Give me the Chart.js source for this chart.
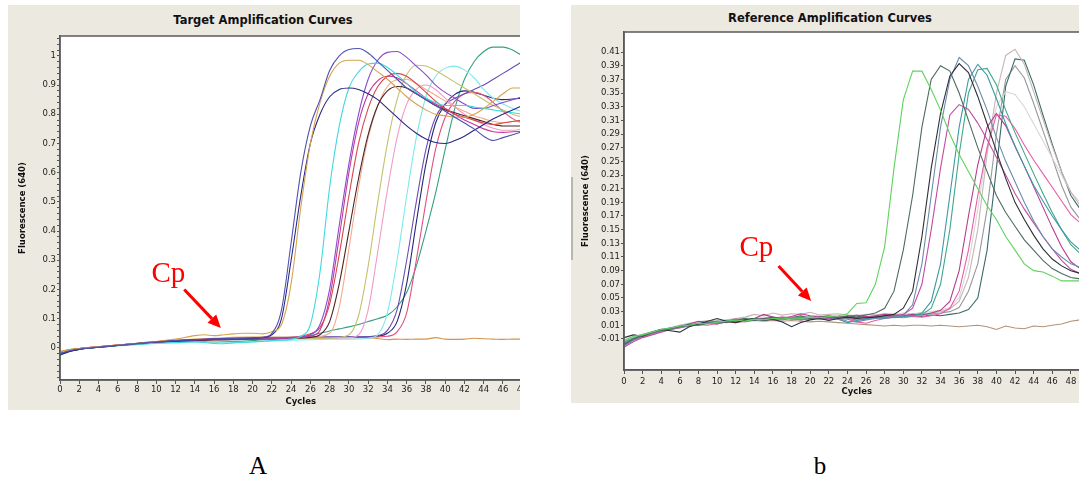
<!DOCTYPE html>
<html><head><meta charset="utf-8">
<script src="https://cdn.jsdelivr.net/npm/chart.js@4.4.1/dist/chart.umd.min.js"></script>
<style>
html,body{margin:0;padding:0;background:#fff;width:1079px;height:484px;overflow:hidden}
.panel{position:absolute;background:#ece9e1;overflow:hidden}
.ttl{position:absolute;font-family:'DejaVu Sans',sans-serif;font-weight:bold;font-size:11.5px;color:#111;white-space:nowrap;transform:translateX(-50%)}
.cv{position:absolute;left:0;top:0}
.lbl{position:absolute;font-family:'Liberation Serif','Times New Roman',serif;font-size:25px;line-height:25px;color:#000;transform:translateX(-50%)}
</style></head><body>
<div class="panel" style="left:8px;top:5px;width:512px;height:405px">
  <div class="ttl" style="left:255px;top:8px">Target Amplification Curves</div>
  <div class="cv" style="width:560px;height:405px"><canvas id="chartA"></canvas></div>
</div>
<div class="panel" style="left:571px;top:5px;width:508px;height:398px">
  <div class="ttl" style="left:259px;top:6px">Reference Amplification Curves</div>
  <div class="cv" style="width:540px;height:398px"><canvas id="chartB"></canvas></div>
</div>
<div style="position:absolute;left:571px;top:177px;width:2px;height:83px;background:#b8b6b0"></div>
<div class="lbl" style="left:258px;top:453px">A</div>
<div class="lbl" style="left:820px;top:453px">b</div>
<script>
// ---------- axis ticks ----------
const cycleTicks = [0,2,4,6,8,10,12,14,16,18,20,22,24,26,28,30,32,34,36,38,40,42,44,46,48,50];
const yTickValsA = [0,0.1,0.2,0.3,0.4,0.5,0.6,0.7,0.8,0.9,1];
const yTickLabelsA = ['0','0.1','0.2','0.3','0.4','0.5','0.6','0.7','0.8','0.9','1'];
const yTickValsB = [-0.01,0.01,0.03,0.05,0.07,0.09,0.11,0.13,0.15,0.17,0.19,0.21,0.23,0.25,0.27,0.29,0.31,0.33,0.35,0.37,0.39,0.41];
const yTickLabelsB = ['-0.01','0.01','0.03','0.05','0.07','0.09','0.11','0.13','0.15','0.17','0.19','0.21','0.23','0.25','0.27','0.29','0.31','0.33','0.35','0.37','0.39','0.41'];

// ---------- panel A series: [cycle, fluorescence] ----------
const targetNavyPurple = [[0,-0.02],[1,-0.01],[2,-0.004],[4,0.003],[6,0.009],[8,0.015],[10,0.021],[12,0.025],[14,0.028],[16,0.03],[18,0.032],[20,0.034],[21,0.036],[22,0.05],[23,0.13],[24,0.36],[25,0.6],[26,0.76],[27,0.85],[28,0.95],[29,1.0],[30,1.022],[31,1.025],[32,1.01],[33,0.98],[34,0.95],[35,0.92],[36,0.89],[37,0.87],[38,0.85],[39,0.83],[40,0.81],[41,0.79],[42,0.77],[43,0.75],[44,0.725],[45,0.71],[46,0.72],[47,0.73],[48,0.74]];
const targetOrangeTan = [[0,-0.012],[1,-0.006],[2,-0.002],[4,0.004],[6,0.01],[8,0.016],[10,0.022],[12,0.03],[14,0.042],[15,0.045],[16,0.042],[17,0.045],[18,0.048],[19,0.05],[20,0.05],[21,0.048],[22,0.055],[23,0.08],[24,0.22],[25,0.48],[26,0.7],[27,0.84],[28,0.93],[29,0.975],[30,0.985],[31,0.985],[32,0.97],[33,0.945],[34,0.92],[35,0.89],[36,0.86],[37,0.835],[38,0.815],[39,0.8],[40,0.795],[41,0.79],[42,0.79],[43,0.8],[44,0.82],[45,0.845],[46,0.87],[47,0.89],[48,0.89]];
const targetDarkBlue = [[0,-0.025],[1,-0.012],[2,-0.005],[4,0.002],[6,0.008],[8,0.014],[10,0.02],[12,0.024],[14,0.027],[16,0.03],[18,0.031],[20,0.033],[21,0.035],[22,0.045],[23,0.1],[24,0.3],[25,0.52],[26,0.7],[27,0.8],[28,0.86],[29,0.885],[30,0.89],[31,0.885],[32,0.87],[33,0.85],[34,0.82],[35,0.79],[36,0.76],[37,0.735],[38,0.715],[39,0.703],[40,0.7],[41,0.71],[42,0.725],[43,0.745],[44,0.765],[45,0.785],[46,0.8],[47,0.815],[48,0.83]];
const targetCyan = [[0,-0.015],[1,-0.008],[2,-0.003],[4,0.003],[6,0.008],[8,0.012],[10,0.016],[12,0.018],[14,0.02],[16,0.015],[17,0.014],[18,0.017],[20,0.02],[22,0.025],[24,0.03],[25,0.04],[26,0.08],[27,0.26],[28,0.55],[29,0.76],[30,0.89],[31,0.945],[32,0.972],[33,0.975],[34,0.96],[35,0.935],[36,0.905],[37,0.875],[38,0.855],[39,0.84],[40,0.83],[41,0.83],[42,0.83],[43,0.825],[44,0.82],[45,0.815],[46,0.81],[47,0.805],[48,0.8]];
const targetPurple = [[0,-0.018],[1,-0.01],[2,-0.004],[4,0.002],[6,0.009],[8,0.014],[10,0.02],[12,0.025],[14,0.028],[16,0.031],[18,0.033],[20,0.034],[22,0.034],[24,0.035],[26,0.045],[27,0.08],[28,0.2],[29,0.42],[30,0.63],[31,0.8],[32,0.92],[33,0.985],[34,1.012],[35,1.015],[36,0.995],[37,0.965],[38,0.935],[39,0.9],[40,0.875],[41,0.855],[42,0.835],[43,0.82],[44,0.82],[45,0.83],[46,0.84],[47,0.85],[48,0.86]];
const targetRed = [[0,-0.015],[1,-0.007],[2,-0.002],[4,0.004],[6,0.01],[8,0.016],[10,0.022],[12,0.026],[14,0.028],[16,0.03],[18,0.032],[20,0.033],[22,0.034],[24,0.036],[26,0.048],[27,0.07],[28,0.15],[29,0.32],[30,0.52],[31,0.7],[32,0.82],[33,0.895],[34,0.93],[35,0.94],[36,0.93],[37,0.905],[38,0.875],[39,0.845],[40,0.82],[41,0.8],[42,0.79],[43,0.78],[44,0.77],[45,0.765],[46,0.77],[47,0.775],[48,0.78]];
const targetMagenta = [[0,-0.02],[1,-0.01],[2,-0.004],[4,0.003],[6,0.009],[8,0.015],[10,0.02],[12,0.024],[14,0.027],[16,0.029],[18,0.03],[20,0.031],[22,0.032],[24,0.034],[26,0.04],[27,0.06],[28,0.17],[29,0.38],[30,0.6],[31,0.77],[32,0.87],[33,0.915],[34,0.93],[35,0.925],[36,0.905],[37,0.88],[38,0.855],[39,0.835],[40,0.82],[41,0.8],[42,0.78],[43,0.765],[44,0.75],[45,0.74],[46,0.738],[47,0.74],[48,0.742]];
const targetDarkBrown = [[0,-0.016],[1,-0.008],[2,-0.003],[4,0.003],[6,0.008],[8,0.013],[10,0.019],[12,0.022],[14,0.025],[16,0.027],[18,0.028],[20,0.03],[22,0.031],[24,0.033],[26,0.036],[27,0.045],[28,0.09],[29,0.22],[30,0.4],[31,0.58],[32,0.73],[33,0.83],[34,0.88],[35,0.895],[36,0.89],[37,0.87],[38,0.85],[39,0.83],[40,0.815],[41,0.805],[42,0.795],[43,0.785],[44,0.775],[45,0.765],[46,0.76],[47,0.76],[48,0.76]];
const targetPeach = [[0,-0.014],[1,-0.007],[2,-0.002],[4,0.004],[6,0.01],[8,0.015],[10,0.02],[12,0.025],[14,0.028],[16,0.03],[18,0.031],[20,0.032],[22,0.033],[24,0.034],[26,0.036],[28,0.05],[29,0.14],[30,0.34],[31,0.55],[32,0.72],[33,0.83],[34,0.895],[35,0.918],[36,0.92],[37,0.905],[38,0.885],[39,0.865],[40,0.845],[41,0.825],[42,0.81],[43,0.795],[44,0.785],[45,0.775],[46,0.772],[47,0.775],[48,0.78]];
const targetOlive = [[0,-0.013],[1,-0.006],[2,-0.002],[4,0.004],[6,0.009],[8,0.014],[10,0.019],[12,0.023],[14,0.026],[16,0.028],[18,0.029],[20,0.03],[22,0.03],[24,0.031],[26,0.032],[28,0.033],[30,0.045],[31,0.11],[32,0.28],[33,0.5],[34,0.7],[35,0.85],[36,0.935],[37,0.968],[38,0.965],[39,0.95],[40,0.93],[41,0.91],[42,0.89],[43,0.87],[44,0.85],[45,0.83],[46,0.815],[47,0.8],[48,0.79]];
const targetPink = [[0,-0.016],[1,-0.008],[2,-0.003],[4,0.003],[6,0.009],[8,0.014],[10,0.019],[12,0.023],[14,0.026],[16,0.028],[18,0.029],[20,0.03],[22,0.031],[24,0.032],[26,0.033],[28,0.034],[30,0.035],[31,0.045],[32,0.13],[33,0.33],[34,0.54],[35,0.72],[36,0.835],[37,0.885],[38,0.9],[39,0.885],[40,0.855],[41,0.825],[42,0.8],[43,0.78],[44,0.765],[45,0.752],[46,0.745],[47,0.745],[48,0.75]];
const targetLightCyan = [[0,-0.017],[1,-0.009],[2,-0.004],[4,0.002],[6,0.007],[8,0.011],[10,0.015],[12,0.018],[14,0.02],[16,0.02],[18,0.019],[20,0.021],[22,0.024],[24,0.026],[26,0.028],[28,0.03],[30,0.03],[32,0.033],[33,0.045],[34,0.12],[35,0.3],[36,0.52],[37,0.72],[38,0.86],[39,0.93],[40,0.958],[41,0.965],[42,0.952],[43,0.925],[44,0.885],[45,0.855],[46,0.835],[47,0.82],[48,0.81]];
const targetLateViolet = [[0,-0.02],[1,-0.01],[2,-0.004],[4,0.003],[6,0.009],[8,0.015],[10,0.02],[12,0.025],[14,0.028],[16,0.03],[18,0.032],[20,0.034],[22,0.035],[24,0.036],[26,0.037],[28,0.038],[30,0.038],[32,0.039],[33,0.042],[34,0.06],[35,0.13],[36,0.3],[37,0.5],[38,0.68],[39,0.79],[40,0.835],[41,0.855],[42,0.87],[43,0.885],[44,0.9],[45,0.92],[46,0.94],[47,0.96],[48,0.98]];
const targetLateRose = [[0,-0.014],[1,-0.007],[2,-0.002],[4,0.004],[6,0.01],[8,0.015],[10,0.02],[12,0.024],[14,0.027],[16,0.029],[18,0.03],[20,0.031],[22,0.032],[24,0.033],[26,0.034],[28,0.035],[30,0.036],[32,0.037],[34,0.04],[35,0.055],[36,0.12],[37,0.3],[38,0.5],[39,0.68],[40,0.79],[41,0.845],[42,0.87],[43,0.875],[44,0.865],[45,0.84],[46,0.81],[47,0.785],[48,0.77]];
const targetLateNavy = [[0,-0.022],[1,-0.011],[2,-0.005],[4,0.002],[6,0.008],[8,0.014],[10,0.019],[12,0.024],[14,0.027],[16,0.029],[18,0.031],[20,0.033],[22,0.034],[24,0.035],[26,0.036],[28,0.036],[30,0.037],[32,0.038],[33,0.04],[34,0.05],[35,0.09],[36,0.22],[37,0.43],[38,0.63],[39,0.77],[40,0.835],[41,0.868],[42,0.88],[43,0.875],[44,0.865],[45,0.855],[46,0.85],[47,0.852],[48,0.855]];
const targetTealGreen = [[0,-0.025],[1,-0.012],[2,-0.005],[4,0.002],[6,0.008],[8,0.014],[10,0.019],[12,0.022],[14,0.024],[16,0.02],[18,0.022],[20,0.025],[22,0.03],[24,0.034],[25,0.036],[26,0.042],[27,0.05],[28,0.058],[29,0.065],[30,0.072],[31,0.08],[32,0.09],[33,0.1],[34,0.112],[35,0.14],[36,0.19],[37,0.28],[38,0.4],[39,0.53],[40,0.68],[41,0.82],[42,0.92],[43,0.98],[44,1.015],[45,1.03],[46,1.03],[47,1.02],[48,1.0]];
const targetFlatOrange = [[0,-0.013],[1,-0.006],[2,-0.002],[4,0.004],[6,0.01],[8,0.015],[10,0.021],[12,0.026],[14,0.03],[16,0.033],[18,0.036],[20,0.037],[22,0.037],[24,0.036],[26,0.035],[28,0.034],[30,0.035],[32,0.035],[33,0.032],[34,0.028],[35,0.03],[36,0.029],[37,0.03],[38,0.03],[39,0.035],[40,0.03],[41,0.029],[42,0.03],[43,0.033],[44,0.031],[45,0.03],[46,0.029],[47,0.03],[48,0.03]];

// ---------- panel b series: [cycle, fluorescence] ----------
const refGreen = [[0,-0.012],[1,-0.006],[2,-0.004],[3,0.0],[4,0.004],[5,0.006],[6,0.009],[7,0.01],[8,0.013],[9,0.012],[10,0.015],[11,0.016],[12,0.018],[13,0.016],[14,0.019],[15,0.018],[16,0.02],[17,0.019],[18,0.021],[19,0.02],[20,0.022],[21,0.021],[22,0.023],[23,0.024],[24,0.027],[25,0.042],[26,0.043],[27,0.07],[28,0.125],[29,0.24],[30,0.34],[31,0.382],[32,0.382],[33,0.355],[34,0.325],[35,0.29],[36,0.26],[37,0.235],[38,0.21],[39,0.185],[40,0.165],[41,0.14],[42,0.12],[43,0.1],[44,0.09],[45,0.088],[46,0.082],[47,0.075],[48,0.075],[49,0.075]];
const refSlateGreen = [[0,-0.018],[1,-0.01],[2,-0.005],[3,-0.001],[4,0.003],[5,0.005],[6,0.008],[7,0.011],[8,0.01],[9,0.013],[10,0.016],[11,0.014],[12,0.018],[13,0.02],[14,0.017],[15,0.02],[16,0.022],[17,0.019],[18,0.021],[19,0.024],[20,0.02],[21,0.022],[22,0.023],[23,0.021],[24,0.024],[25,0.022],[26,0.025],[27,0.028],[28,0.035],[29,0.06],[30,0.12],[31,0.2],[32,0.3],[33,0.37],[34,0.39],[35,0.382],[36,0.35],[37,0.31],[38,0.27],[39,0.235],[40,0.2],[41,0.175],[42,0.155],[43,0.135],[44,0.12],[45,0.105],[46,0.093],[47,0.086],[48,0.08],[49,0.078]];
const refBlack = [[0,-0.008],[1,-0.004],[2,-0.006],[3,0.0],[4,0.004],[5,0.002],[6,0.0],[7,0.008],[8,0.012],[9,0.016],[10,0.02],[11,0.016],[12,0.014],[13,0.018],[14,0.02],[15,0.017],[16,0.019],[17,0.015],[18,0.008],[19,0.014],[20,0.018],[21,0.02],[22,0.017],[23,0.02],[24,0.022],[25,0.02],[26,0.021],[27,0.022],[28,0.024],[29,0.026],[30,0.035],[31,0.06],[32,0.14],[33,0.24],[34,0.32],[35,0.375],[36,0.393],[37,0.38],[38,0.345],[39,0.305],[40,0.265],[41,0.225],[42,0.19],[43,0.165],[44,0.142],[45,0.122],[46,0.107],[47,0.097],[48,0.09],[49,0.086]];
const refBlueGray = [[0,-0.02],[1,-0.012],[2,-0.006],[3,-0.002],[4,0.002],[5,0.005],[6,0.007],[7,0.009],[8,0.011],[9,0.013],[10,0.014],[11,0.016],[12,0.015],[13,0.017],[14,0.018],[15,0.017],[16,0.019],[17,0.018],[18,0.02],[19,0.019],[20,0.021],[21,0.02],[22,0.018],[23,0.02],[24,0.016],[25,0.015],[26,0.018],[27,0.02],[28,0.021],[29,0.022],[30,0.025],[31,0.04],[32,0.1],[33,0.2],[34,0.3],[35,0.37],[36,0.402],[37,0.39],[38,0.36],[39,0.325],[40,0.285],[41,0.25],[42,0.22],[43,0.19],[44,0.163],[45,0.14],[46,0.122],[47,0.11],[48,0.1],[49,0.095]];
const refMagenta = [[0,-0.022],[1,-0.014],[2,-0.008],[3,-0.004],[4,0.0],[5,0.004],[6,0.007],[7,0.01],[8,0.012],[9,0.013],[10,0.012],[11,0.015],[12,0.017],[13,0.016],[14,0.018],[15,0.02],[16,0.018],[17,0.019],[18,0.021],[19,0.02],[20,0.019],[21,0.021],[22,0.02],[23,0.022],[24,0.021],[25,0.02],[26,0.022],[27,0.023],[28,0.021],[29,0.024],[30,0.026],[31,0.035],[32,0.07],[33,0.15],[34,0.24],[35,0.318],[36,0.333],[37,0.326],[38,0.306],[39,0.282],[40,0.256],[41,0.23],[42,0.203],[43,0.18],[44,0.16],[45,0.14],[46,0.122],[47,0.105],[48,0.092],[49,0.086]];
const refTealBlue = [[0,-0.016],[1,-0.01],[2,-0.005],[3,-0.001],[4,0.003],[5,0.006],[6,0.008],[7,0.01],[8,0.013],[9,0.014],[10,0.015],[11,0.017],[12,0.016],[13,0.018],[14,0.02],[15,0.019],[16,0.02],[17,0.021],[18,0.019],[19,0.021],[20,0.022],[21,0.02],[22,0.021],[23,0.019],[24,0.014],[25,0.017],[26,0.02],[27,0.021],[28,0.02],[29,0.022],[30,0.023],[31,0.024],[32,0.028],[33,0.045],[34,0.1],[35,0.2],[36,0.3],[37,0.37],[38,0.392],[39,0.376],[40,0.342],[41,0.305],[42,0.272],[43,0.243],[44,0.215],[45,0.192],[46,0.17],[47,0.15],[48,0.132],[49,0.12]];
const refTealGreen = [[0,-0.014],[1,-0.009],[2,-0.004],[3,0.0],[4,0.004],[5,0.006],[6,0.009],[7,0.011],[8,0.012],[9,0.014],[10,0.016],[11,0.015],[12,0.017],[13,0.019],[14,0.018],[15,0.02],[16,0.019],[17,0.021],[18,0.02],[19,0.022],[20,0.021],[21,0.019],[22,0.02],[23,0.022],[24,0.02],[25,0.018],[26,0.019],[27,0.021],[28,0.022],[29,0.021],[30,0.023],[31,0.024],[32,0.026],[33,0.035],[34,0.07],[35,0.15],[36,0.26],[37,0.35],[38,0.384],[39,0.386],[40,0.362],[41,0.325],[42,0.292],[43,0.262],[44,0.232],[45,0.203],[46,0.175],[47,0.15],[48,0.128],[49,0.115]];
const refPink = [[0,-0.02],[1,-0.012],[2,-0.007],[3,-0.003],[4,0.001],[5,0.004],[6,0.006],[7,0.009],[8,0.011],[9,0.01],[10,0.013],[11,0.015],[12,0.014],[13,0.016],[14,0.019],[15,0.017],[16,0.02],[17,0.022],[18,0.02],[19,0.018],[20,0.02],[21,0.022],[22,0.021],[23,0.02],[24,0.019],[25,0.015],[26,0.013],[27,0.017],[28,0.02],[29,0.022],[30,0.021],[31,0.023],[32,0.022],[33,0.024],[34,0.027],[35,0.035],[36,0.06],[37,0.12],[38,0.2],[39,0.27],[40,0.318],[41,0.316],[42,0.298],[43,0.274],[44,0.252],[45,0.232],[46,0.212],[47,0.192],[48,0.172],[49,0.16]];
const refPlum = [[0,-0.018],[1,-0.01],[2,-0.006],[3,-0.002],[4,0.002],[5,0.005],[6,0.008],[7,0.012],[8,0.016],[9,0.014],[10,0.012],[11,0.016],[12,0.019],[13,0.017],[14,0.02],[15,0.026],[16,0.022],[17,0.02],[18,0.023],[19,0.027],[20,0.024],[21,0.022],[22,0.024],[23,0.021],[24,0.023],[25,0.025],[26,0.022],[27,0.024],[28,0.026],[29,0.025],[30,0.024],[31,0.026],[32,0.025],[33,0.028],[34,0.032],[35,0.045],[36,0.09],[37,0.17],[38,0.245],[39,0.3],[40,0.32],[41,0.302],[42,0.272],[43,0.243],[44,0.213],[45,0.183],[46,0.153],[47,0.125],[48,0.103],[49,0.093]];
const refLightGray = [[0,-0.015],[1,-0.008],[2,-0.004],[3,0.0],[4,0.003],[5,0.006],[6,0.01],[7,0.013],[8,0.015],[9,0.017],[10,0.016],[11,0.018],[12,0.02],[13,0.022],[14,0.026],[15,0.024],[16,0.028],[17,0.025],[18,0.027],[19,0.026],[20,0.029],[21,0.025],[22,0.026],[23,0.027],[24,0.025],[25,0.024],[26,0.026],[27,0.025],[28,0.027],[29,0.026],[30,0.025],[31,0.027],[32,0.026],[33,0.028],[34,0.03],[35,0.034],[36,0.045],[37,0.08],[38,0.15],[39,0.26],[40,0.35],[41,0.405],[42,0.414],[43,0.392],[44,0.352],[45,0.312],[46,0.272],[47,0.235],[48,0.205],[49,0.185]];
const refPaleGray = [[0,-0.014],[1,-0.007],[2,-0.003],[3,0.001],[4,0.004],[5,0.007],[6,0.01],[7,0.012],[8,0.014],[9,0.016],[10,0.018],[11,0.017],[12,0.019],[13,0.021],[14,0.02],[15,0.022],[16,0.021],[17,0.023],[18,0.022],[19,0.024],[20,0.023],[21,0.025],[22,0.024],[23,0.023],[24,0.025],[25,0.024],[26,0.026],[27,0.025],[28,0.027],[29,0.026],[30,0.028],[31,0.027],[32,0.029],[33,0.03],[34,0.032],[35,0.036],[36,0.05],[37,0.1],[38,0.18],[39,0.27],[40,0.33],[41,0.352],[42,0.348],[43,0.33],[44,0.305],[45,0.28],[46,0.255],[47,0.23],[48,0.205],[49,0.19]];
const refDarkTeal = [[0,-0.019],[1,-0.011],[2,-0.006],[3,-0.002],[4,0.002],[5,0.005],[6,0.008],[7,0.01],[8,0.012],[9,0.014],[10,0.016],[11,0.015],[12,0.017],[13,0.019],[14,0.018],[15,0.02],[16,0.019],[17,0.021],[18,0.02],[19,0.018],[20,0.02],[21,0.022],[22,0.021],[23,0.023],[24,0.022],[25,0.021],[26,0.023],[27,0.022],[28,0.024],[29,0.023],[30,0.025],[31,0.024],[32,0.023],[33,0.025],[34,0.024],[35,0.026],[36,0.028],[37,0.033],[38,0.05],[39,0.12],[40,0.24],[41,0.36],[42,0.4],[43,0.398],[44,0.362],[45,0.318],[46,0.275],[47,0.235],[48,0.2],[49,0.18]];
const refGray = [[0,-0.017],[1,-0.01],[2,-0.005],[3,-0.001],[4,0.003],[5,0.005],[6,0.009],[7,0.011],[8,0.013],[9,0.015],[10,0.014],[11,0.016],[12,0.018],[13,0.017],[14,0.019],[15,0.021],[16,0.02],[17,0.022],[18,0.021],[19,0.023],[20,0.022],[21,0.021],[22,0.023],[23,0.022],[24,0.024],[25,0.023],[26,0.022],[27,0.024],[28,0.023],[29,0.025],[30,0.024],[31,0.026],[32,0.025],[33,0.027],[34,0.028],[35,0.03],[36,0.036],[37,0.06],[38,0.1],[39,0.18],[40,0.29],[41,0.37],[42,0.39],[43,0.372],[44,0.335],[45,0.295],[46,0.255],[47,0.215],[48,0.183],[49,0.165]];
const refBrownFlat = [[0,-0.012],[1,-0.007],[2,-0.003],[3,0.0],[4,0.004],[5,0.006],[6,0.008],[7,0.01],[8,0.012],[9,0.013],[10,0.014],[11,0.015],[12,0.016],[13,0.015],[14,0.017],[15,0.016],[16,0.017],[17,0.016],[18,0.017],[19,0.016],[20,0.015],[21,0.016],[22,0.015],[23,0.014],[24,0.013],[25,0.012],[26,0.011],[27,0.01],[28,0.009],[29,0.01],[30,0.009],[31,0.01],[32,0.01],[33,0.009],[34,0.01],[35,0.009],[36,0.008],[37,0.009],[38,0.01],[39,0.008],[40,0.004],[41,0.009],[42,0.006],[43,0.005],[44,0.009],[45,0.008],[46,0.01],[47,0.012],[48,0.016],[49,0.018]];

const seriesA = [
  [targetNavyPurple,'#5050b0'],[targetOrangeTan,'#d6a24e'],[targetDarkBlue,'#2a2a84'],[targetCyan,'#3fd8df'],
  [targetPurple,'#8a4ccc'],[targetRed,'#d8474a'],[targetMagenta,'#c6389a'],[targetDarkBrown,'#4a2428'],
  [targetPeach,'#f3a98a'],[targetOlive,'#c4c26e'],[targetPink,'#f29bc6'],[targetLightCyan,'#7ee9ea'],
  [targetLateViolet,'#6a4cb4'],[targetLateRose,'#e0507e'],[targetLateNavy,'#26287a'],[targetTealGreen,'#36a082'],
  [targetFlatOrange,'#d49448']
];
const seriesB = [
  [refGreen,'#5ed35e'],[refSlateGreen,'#4d6b5e'],[refBlack,'#2e2e36'],[refBlueGray,'#6c8cac'],
  [refMagenta,'#c24ca2'],[refTealBlue,'#3c98a8'],[refTealGreen,'#3fa886'],[refPink,'#ea5aa8'],
  [refPlum,'#b63a8e'],[refLightGray,'#c6b6b6'],[refPaleGray,'#dcd4d4'],[refDarkTeal,'#3a6a6a'],
  [refGray,'#94999a'],[refBrownFlat,'#b29278']
];

// ---------- plugins ----------
const framePlugin = {
  id: 'frame',
  beforeDraw(chart) {
    const {ctx, chartArea: a} = chart;
    ctx.save(); ctx.fillStyle = '#ffffff';
    ctx.fillRect(a.left, a.top, a.right - a.left, a.bottom - a.top); ctx.restore();
  },
  afterDraw(chart) {
    const {ctx, chartArea: a} = chart;
    ctx.save(); ctx.strokeStyle = '#5a5a5a'; ctx.lineWidth = 1.5;
    ctx.strokeRect(a.left, a.top, a.right - a.left, a.bottom - a.top); ctx.restore();
  }
};
const cpPlugin = {
  id: 'cp',
  afterDatasetsDraw(chart, args, o) {
    const {ctx, scales: {x, y}} = chart;
    ctx.save();
    ctx.fillStyle = o.color; ctx.strokeStyle = o.color;
    ctx.font = o.font; ctx.textBaseline = 'alphabetic'; ctx.textAlign = 'left';
    ctx.fillText(o.text, x.getPixelForValue(o.textAt[0]), y.getPixelForValue(o.textAt[1]));
    const x1 = x.getPixelForValue(o.from[0]), y1 = y.getPixelForValue(o.from[1]);
    const x2 = x.getPixelForValue(o.to[0]), y2 = y.getPixelForValue(o.to[1]);
    const ang = Math.atan2(y2 - y1, x2 - x1), head = 13, hw = 6;
    const bx = x2 - head * Math.cos(ang), by = y2 - head * Math.sin(ang);
    ctx.lineWidth = 3;
    ctx.beginPath(); ctx.moveTo(x1, y1); ctx.lineTo(bx, by); ctx.stroke();
    ctx.beginPath(); ctx.moveTo(x2, y2);
    ctx.lineTo(bx - hw * Math.sin(ang), by + hw * Math.cos(ang));
    ctx.lineTo(bx + hw * Math.sin(ang), by - hw * Math.cos(ang));
    ctx.closePath(); ctx.fill();
    ctx.restore();
  }
};

function makeChart(id, series, cfg) {
  const datasets = series.map(([pts, color]) => ({
    data: pts.map(([c, v]) => ({x: c, y: v})),
    borderColor: color, borderWidth: 1.1, pointRadius: 0, fill: false,
    tension: cfg.tension, cubicInterpolationMode: cfg.mono ? 'monotone' : 'default'
  }));
  const fontTick = {family: "'DejaVu Sans', sans-serif", size: 8.5};
  const fontTitle = {family: "'DejaVu Sans', sans-serif", size: 8.5, weight: 'bold'};
  return new Chart(document.getElementById(id), {
    type: 'line',
    data: {datasets},
    plugins: [framePlugin, cpPlugin],
    options: {
      animation: false, responsive: true, maintainAspectRatio: false,
      layout: {padding: {top: cfg.padTop, right: cfg.padRight, left: 0, bottom: 0}},
      plugins: {legend: {display: false}, tooltip: {enabled: false}, cp: cfg.cp},
      scales: {
        x: {
          type: 'linear', min: 0, max: 50,
          afterBuildTicks: s => { s.ticks = cycleTicks.map(v => ({value: v})); },
          afterFit: s => { s.height = cfg.xHeight; },
          ticks: {font: fontTick, color: '#222', padding: cfg.xTickPad, maxRotation: 0, autoSkip: false, callback: v => String(v)},
          grid: {display: true, drawOnChartArea: false, drawTicks: true, tickLength: 4, color: '#555'},
          border: {display: true, color: '#5a5a5a', width: 1.5},
          title: {display: true, text: 'Cycles', font: fontTitle, color: '#111', padding: {top: 0, bottom: cfg.xTitlePad}}
        },
        y: {
          type: 'linear', min: cfg.yMin, max: cfg.yMax,
          afterBuildTicks: s => { s.ticks = cfg.yTickAll.map(v => ({value: v})); },
          afterFit: s => { s.width = cfg.yWidth; },
          ticks: {font: fontTick, color: '#222', padding: 1, autoSkip: false,
            callback: v => { const i = cfg.yVals.findIndex(t => Math.abs(t - v) < 1e-9); return i >= 0 ? cfg.yLabels[i] : ''; }},
          grid: {display: true, drawOnChartArea: false, drawTicks: true, tickLength: 3, color: '#555'},
          border: {display: true, color: '#5a5a5a', width: 1.5},
          title: {display: true, text: 'Fluorescence (640)', font: fontTitle, color: '#111', padding: {top: 10, bottom: 0}}
        }
      }
    }
  });
}

const minorA = [];
for (let k = -5; k <= 53; k++) minorA.push(Math.round(k * 2) / 100);

makeChart('chartA', seriesA, {
  tension: 0.4, mono: true, padTop: 31, padRight: 26.5, xHeight: 30, xTickPad: 1, xTitlePad: 3,
  yMin: -0.11, yMax: 1.068, yWidth: 52, yVals: yTickValsA, yLabels: yTickLabelsA, yTickAll: minorA,
  cp: {text: 'Cp', color: '#ff0000', font: "29px 'Liberation Serif', serif", textAt: [9.5, 0.225], from: [12.9, 0.2], to: [16.7, 0.068]}
});
makeChart('chartB', seriesB, {
  tension: 0, mono: false, padTop: 27, padRight: 21.5, xHeight: 33, xTickPad: 3, xTitlePad: 6,
  yMin: -0.0554, yMax: 0.4393, yWidth: 53, yVals: yTickValsB, yLabels: yTickLabelsB, yTickAll: yTickValsB,
  cp: {text: 'Cp', color: '#ff0000', font: "29px 'Liberation Serif', serif", textAt: [12.4, 0.1115], from: [16.6, 0.0968], to: [20.1, 0.0456]}
});
</script>
</body></html>
